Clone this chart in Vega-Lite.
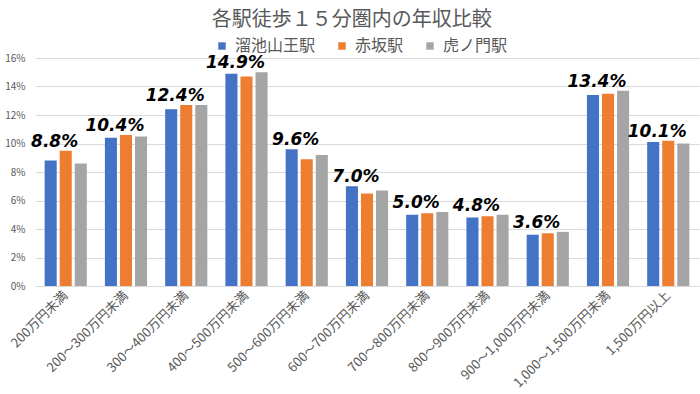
{
  "$schema": "https://vega.github.io/schema/vega-lite/v6.json",
  "width": 700,
  "height": 394,
  "autosize": {"type": "fit", "contains": "padding"},
  "padding": {"left": 4, "right": 1, "top": 10, "bottom": 4},
  "background": "white",
  "title": {
    "text": "各駅徒歩１５分圏内の年収比較",
    "font": "Noto Sans CJK JP",
    "fontSize": 20,
    "fontWeight": "normal",
    "color": "#595959",
    "anchor": "middle",
    "frame": "bounds",
    "offset": 23
  },
  "data": {
    "values": [
      {"income": "200万円未満", "station": "溜池山王駅", "value": 0.088},
      {"income": "200万円未満", "station": "赤坂駅", "value": 0.095},
      {"income": "200万円未満", "station": "虎ノ門駅", "value": 0.086},
      {"income": "200～300万円未満", "station": "溜池山王駅", "value": 0.104},
      {"income": "200～300万円未満", "station": "赤坂駅", "value": 0.106},
      {"income": "200～300万円未満", "station": "虎ノ門駅", "value": 0.105},
      {"income": "300～400万円未満", "station": "溜池山王駅", "value": 0.124},
      {"income": "300～400万円未満", "station": "赤坂駅", "value": 0.127},
      {"income": "300～400万円未満", "station": "虎ノ門駅", "value": 0.127},
      {"income": "400～500万円未満", "station": "溜池山王駅", "value": 0.149},
      {"income": "400～500万円未満", "station": "赤坂駅", "value": 0.147},
      {"income": "400～500万円未満", "station": "虎ノ門駅", "value": 0.150},
      {"income": "500～600万円未満", "station": "溜池山王駅", "value": 0.096},
      {"income": "500～600万円未満", "station": "赤坂駅", "value": 0.089},
      {"income": "500～600万円未満", "station": "虎ノ門駅", "value": 0.092},
      {"income": "600～700万円未満", "station": "溜池山王駅", "value": 0.070},
      {"income": "600～700万円未満", "station": "赤坂駅", "value": 0.065},
      {"income": "600～700万円未満", "station": "虎ノ門駅", "value": 0.067},
      {"income": "700～800万円未満", "station": "溜池山王駅", "value": 0.050},
      {"income": "700～800万円未満", "station": "赤坂駅", "value": 0.051},
      {"income": "700～800万円未満", "station": "虎ノ門駅", "value": 0.052},
      {"income": "800～900万円未満", "station": "溜池山王駅", "value": 0.048},
      {"income": "800～900万円未満", "station": "赤坂駅", "value": 0.049},
      {"income": "800～900万円未満", "station": "虎ノ門駅", "value": 0.050},
      {"income": "900～1,000万円未満", "station": "溜池山王駅", "value": 0.036},
      {"income": "900～1,000万円未満", "station": "赤坂駅", "value": 0.037},
      {"income": "900～1,000万円未満", "station": "虎ノ門駅", "value": 0.038},
      {"income": "1,000～1,500万円未満", "station": "溜池山王駅", "value": 0.134},
      {"income": "1,000～1,500万円未満", "station": "赤坂駅", "value": 0.135},
      {"income": "1,000～1,500万円未満", "station": "虎ノ門駅", "value": 0.137},
      {"income": "1,500万円以上", "station": "溜池山王駅", "value": 0.101},
      {"income": "1,500万円以上", "station": "赤坂駅", "value": 0.102},
      {"income": "1,500万円以上", "station": "虎ノ門駅", "value": 0.100}
    ]
  },
  "encoding": {
    "x": {
      "field": "income",
      "type": "nominal",
      "sort": ["200万円未満", "200～300万円未満", "300～400万円未満", "400～500万円未満", "500～600万円未満", "600～700万円未満", "700～800万円未満", "800～900万円未満", "900～1,000万円未満", "1,000～1,500万円未満", "1,500万円以上"],
      "scale": {"paddingInner": 0.3, "paddingOuter": 0.16},
      "axis": {
        "title": null,
        "labelAngle": -45,
        "labelAlign": "right",
        "labelBaseline": "middle",
        "labelFont": "Noto Sans CJK JP",
        "labelFontSize": 13,
        "labelColor": "#595959",
        "labelPadding": 7,
        "ticks": false,
        "domainColor": "#d9d9d9",
        "domainWidth": 1
      }
    },
    "xOffset": {
      "field": "station",
      "type": "nominal",
      "sort": ["溜池山王駅", "赤坂駅", "虎ノ門駅"],
      "scale": {"paddingInner": 0.2, "paddingOuter": 0}
    },
    "y": {
      "field": "value",
      "type": "quantitative",
      "scale": {"domain": [0, 0.16], "nice": false},
      "axis": {
        "title": null,
        "format": ".0%",
        "values": [0, 0.02, 0.04, 0.06, 0.08, 0.1, 0.12, 0.14, 0.16],
        "labelFont": "Noto Sans CJK JP",
        "labelFontSize": 10,
        "labelColor": "#595959",
        "labelPadding": 10,
        "ticks": false,
        "domain": false,
        "gridColor": "#d9d9d9",
        "gridWidth": 1
      }
    }
  },
  "layer": [
    {
      "mark": {"type": "bar"},
      "encoding": {
        "color": {
          "field": "station",
          "type": "nominal",
          "sort": ["溜池山王駅", "赤坂駅", "虎ノ門駅"],
          "scale": {"domain": ["溜池山王駅", "赤坂駅", "虎ノ門駅"], "range": ["#4472C4", "#ED7D31", "#A5A5A5"]},
          "legend": {
            "title": null,
            "orient": "none",
            "legendX": 179,
            "legendY": -20,
            "direction": "horizontal",
            "symbolType": "square",
            "symbolSize": 55,
            "symbolStrokeWidth": 0,
            "labelFont": "Noto Sans CJK JP",
            "labelFontSize": 16,
            "labelColor": "#595959",
            "columnPadding": 18,
            "labelOffset": 5
          }
        }
      }
    },
    {
      "transform": [
        {"joinaggregate": [{"op": "max", "field": "value", "as": "maxv"}], "groupby": ["income"]},
        {"filter": "datum.station === '溜池山王駅'"}
      ],
      "mark": {
        "type": "text",
        "baseline": "alphabetic",
        "dy": -4,
        "dx": 4,
        "font": "DejaVu Sans",
        "fontSize": 17,
        "fontWeight": "bold",
        "fontStyle": "italic",
        "color": "#000000"
      },
      "encoding": {
        "y": {"field": "maxv", "type": "quantitative"},
        "text": {"field": "value", "type": "quantitative", "format": ".1%"}
      }
    }
  ],
  "config": {
    "view": {"stroke": null}
  }
}
